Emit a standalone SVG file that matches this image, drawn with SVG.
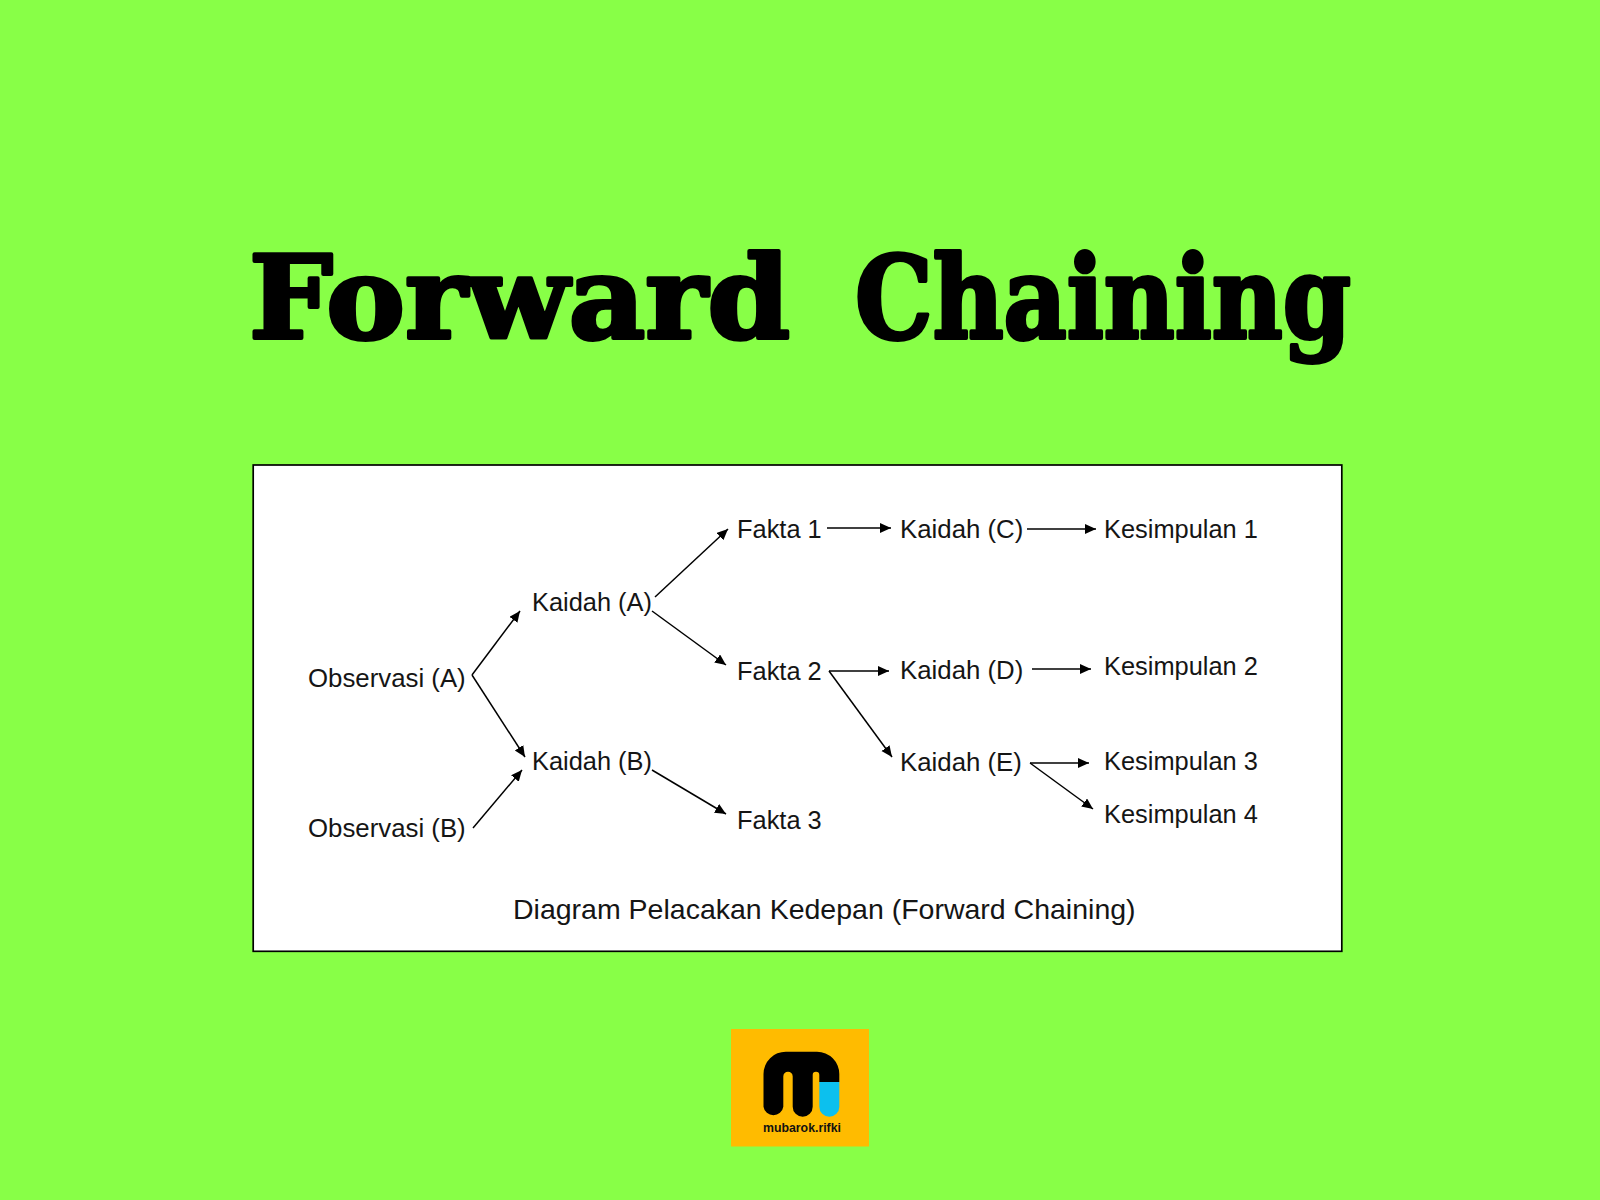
<svg xmlns="http://www.w3.org/2000/svg" width="1600" height="1200" viewBox="0 0 1600 1200">
<style>
.t{font-family:"Liberation Sans",Arial,sans-serif;font-size:25.4px;fill:#151515}
.w{font-size:25.8px}
.title{font-family:"DejaVu Serif",serif;font-weight:700;font-size:114px;fill:#000;stroke:#000;stroke-width:4px;stroke-linejoin:round}
.c{fill:none;stroke:#000;stroke-width:1.5;marker-end:url(#a)}
</style>
<defs><marker id="a" markerUnits="userSpaceOnUse" markerWidth="14" markerHeight="12" refX="11" refY="5" orient="auto"><path d="M0 0L11 5L0 10Z" fill="#000"/></marker></defs>
<rect width="1600" height="1200" fill="#88ff47"/>
<g id="title">
<text class="title" x="249" y="338" textLength="541" lengthAdjust="spacingAndGlyphs">Forward</text>
<text class="title" x="855" y="338" textLength="496" lengthAdjust="spacingAndGlyphs">Chaining</text>
</g>
<rect id="panel" x="253.200" y="465" width="1088.600" height="486.300" fill="#fff" stroke="#000" stroke-width="1.700"/>
<g id="connectors">
<path class="c" d="M472 675L520 611"/>
<path class="c" d="M472 675L525 757"/>
<path class="c" d="M473 828L522 770"/>
<path class="c" d="M655 597L728 529"/>
<path class="c" d="M652 611L726 665"/>
<path class="c" d="M652 770L726 814"/>
<path class="c" d="M827 528H891"/>
<path class="c" d="M1027 529H1096"/>
<path class="c" d="M829 671H889"/>
<path class="c" d="M829 671L892 757"/>
<path class="c" d="M1032 669H1091"/>
<path class="c" d="M1030 763H1089"/>
<path class="c" d="M1030 763L1093 809"/>
</g>
<g id="obs-a"><text class="t w" x="308" y="687">Observasi (A)</text></g>
<g id="obs-b"><text class="t w" x="308" y="837">Observasi (B)</text></g>
<g id="kaidah-a"><text class="t" x="532" y="611">Kaidah (A)</text></g>
<g id="kaidah-b"><text class="t" x="532" y="770">Kaidah (B)</text></g>
<g id="fakta-1"><text class="t" x="737" y="538">Fakta 1</text></g>
<g id="fakta-2"><text class="t" x="737" y="680">Fakta 2</text></g>
<g id="fakta-3"><text class="t" x="737" y="829">Fakta 3</text></g>
<g id="kaidah-c"><text class="t w" x="900" y="538">Kaidah (C)</text></g>
<g id="kaidah-d"><text class="t w" x="900" y="679">Kaidah (D)</text></g>
<g id="kaidah-e"><text class="t w" x="900" y="771">Kaidah (E)</text></g>
<g id="kes-1"><text class="t" x="1104" y="538">Kesimpulan 1</text></g>
<g id="kes-2"><text class="t" x="1104" y="675">Kesimpulan 2</text></g>
<g id="kes-3"><text class="t" x="1104" y="770">Kesimpulan 3</text></g>
<g id="kes-4"><text class="t" x="1104" y="823">Kesimpulan 4</text></g>
<g id="caption"><text class="t" x="513" y="919" style="font-size:28.500px">Diagram Pelacakan Kedepan (Forward Chaining)</text></g>
<g id="logo">
<rect x="731" y="1029" width="138" height="117.500" fill="#ffbb00"/>
<path d="M763.500 1074A22.300 22.300 0 0 1 786 1051.700H817A22.300 22.300 0 0 1 839.300 1074V1082H819.300V1075A3.300 3.300 0 0 0 812.700 1075V1106.700A10 10 0 0 1 792.700 1106.700V1076.400A4.700 4.700 0 0 0 783.300 1076.400V1106.700A10 10 0 0 1 763.500 1106.700Z" fill="#000"/>
<path d="M819.300 1082H839.300V1106.700A10 10 0 0 1 819.300 1106.700Z" fill="#0cc0ee"/>
<text x="763" y="1132" textLength="78" lengthAdjust="spacingAndGlyphs" style="font-family:'Liberation Sans',sans-serif;font-weight:700;font-size:12px;fill:#111">mubarok.rifki</text>
</g>
</svg>
